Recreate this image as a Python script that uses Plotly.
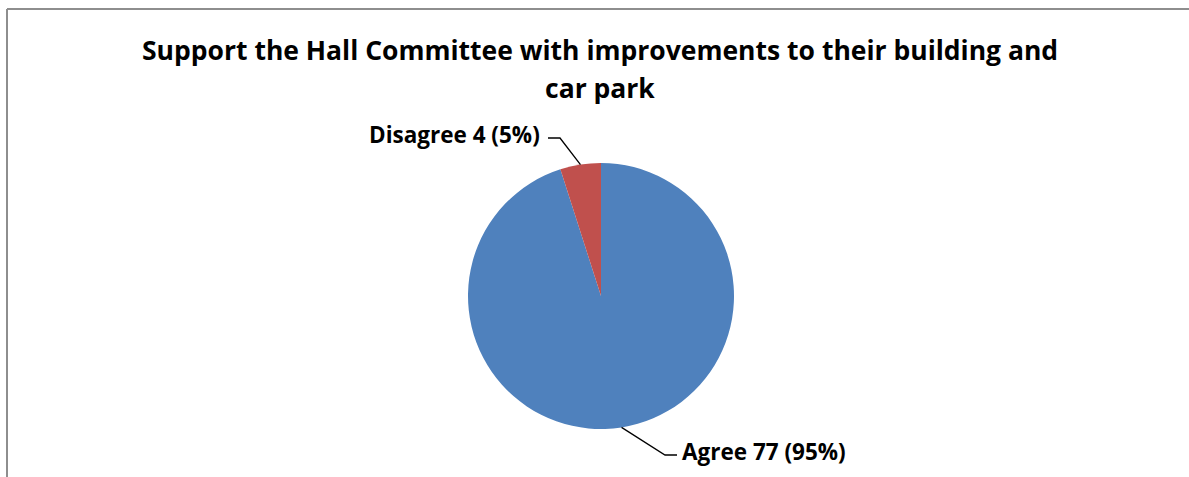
import math
import plotly.graph_objects as go

categories = ["Agree", "Disagree"]
counts = [77, 4]
percent_labels = ["95%", "5%"]
colors = ["#4F81BD", "#C0504D"]
title_lines = ["Support the Hall Committee with improvements to their building and", "car park"]

W, H = 1189, 477
cx, cy, r = 601, 296, 133  # pie center / radius in pixels

def px(x):
    return x / W

def py(y):
    return 1 - y / H

fig = go.Figure()
fig.add_trace(go.Pie(
    labels=categories,
    values=counts,
    sort=False,
    direction="clockwise",
    rotation=0,
    textinfo="none",
    hoverinfo="label+value+percent",
    marker=dict(colors=colors, line=dict(width=0)),
    showlegend=False,
    domain=dict(x=[px(cx - r), px(cx + r)], y=[py(cy + r), py(cy - r)]),
))

font_family = "Open Sans, Liberation Sans, sans-serif"

total = sum(counts)
cum = 0
label_cfg = {
    "Agree": dict(elbow=(665, 455), end=(677, 455), xanchor="left"),
    "Disagree": dict(elbow=(560, 138), end=(548, 138), xanchor="right"),
}
annotations = []
shapes = []
for cat, v, pct in zip(categories, counts, percent_labels):
    mid = (cum + v / 2) / total * 2 * math.pi
    cum += v
    sx = cx + r * math.sin(mid)
    sy = cy - r * math.cos(mid)
    cfg = label_cfg[cat]
    ex, ey = cfg["elbow"]
    tx, ty = cfg["end"]
    shapes.append(dict(
        type="path", xref="paper", yref="paper",
        path=f"M {px(sx)} {py(sy)} L {px(ex)} {py(ey)} L {px(tx)} {py(ty)}",
        line=dict(color="black", width=1.3),
    ))
    annotations.append(dict(
        x=px(tx + (3 if cfg["xanchor"] == "left" else -6)), y=py(ty - 4),
        xref="paper", yref="paper", xanchor=cfg["xanchor"], yanchor="middle",
        text=f"<b>{cat} {v} ({pct})</b>", showarrow=False,
        font=dict(family=font_family, size=22.5, color="black"),
    ))

for line, yc in zip(title_lines, [50, 88]):
    annotations.append(dict(
        x=px(600), y=py(yc), xref="paper", yref="paper",
        xanchor="center", yanchor="middle",
        text=f"<b>{line}</b>", showarrow=False,
        font=dict(family=font_family, size=26.5, color="black"),
    ))

# chart frame: left and top edges only are visible in the reference
shapes.append(dict(
    type="line", xref="paper", yref="paper",
    x0=px(7), x1=px(7), y0=0, y1=py(9),
    line=dict(color="#8E8E8E", width=2),
))
shapes.append(dict(
    type="line", xref="paper", yref="paper",
    x0=px(7), x1=1, y0=py(9), y1=py(9),
    line=dict(color="#8E8E8E", width=2),
))

fig.update_layout(
    width=W, height=H,
    margin=dict(l=0, r=0, t=0, b=0),
    paper_bgcolor="white", plot_bgcolor="white",
    annotations=annotations, shapes=shapes,
)

fig.write_html(
    "out.html", config={"displayModeBar": False},
    post_script="document.body.style.margin='0px';"
                "document.body.style.overflow='hidden';"
                "document.documentElement.style.overflow='hidden';",
)
